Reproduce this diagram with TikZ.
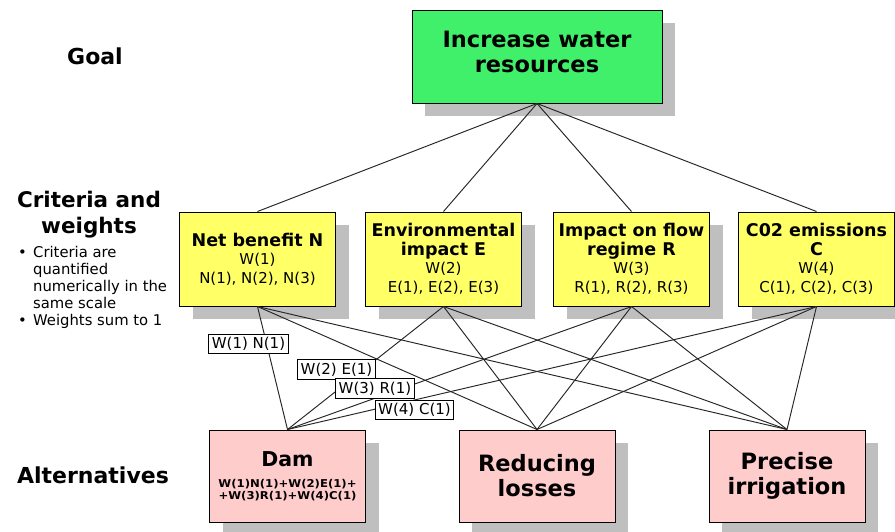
\documentclass[tikz,border=0pt]{standalone}
\usepackage{fontspec}
\setmainfont{DejaVu Sans}
\newfontfamily\widefont[FakeStretch=1.08]{DejaVu Sans}
\usetikzlibrary{shadows}
\definecolor{goalgreen}{RGB}{64,240,106}
\definecolor{crityellow}{RGB}{255,255,102}
\definecolor{altpink}{RGB}{255,204,204}
\newcommand{\bul}{\makebox[15pt][l]{\textbullet}}
\newcommand{\ind}{\hspace*{15pt}}
\begin{document}
\begin{tikzpicture}[x=1pt,y=-1pt,
  box/.style={draw=black, line width=1pt, align=center, inner sep=0pt,
    drop shadow={shadow xshift=13pt, shadow yshift=-13pt, fill=black!25, opacity=1, draw=none}},
  goalbox/.style={box, fill=goalgreen, minimum width=250pt, minimum height=93pt,
    font=\bfseries\fontsize{22.5}{25}\selectfont, text depth=10pt},
  critbox/.style={box, fill=crityellow, minimum width=156pt, minimum height=94pt,
    font=\fontsize{15}{18.5}\selectfont},
  altbox/.style={box, fill=altpink, minimum width=156pt, minimum height=92pt,
    font=\bfseries\fontsize{22.5}{25}\selectfont},
  wlabel/.style={draw=black, line width=0.9pt, fill=white, inner xsep=3pt, inner ysep=3pt,
    font=\fontsize{15}{17}\selectfont},
  link/.style={draw=black!85, line width=0.95pt},
  side/.style={font=\bfseries\fontsize{22}{26}\selectfont, align=center, inner sep=0pt}]
\fill[white] (0,0) rectangle (895,531);
\useasboundingbox (0,0) rectangle (895,531);

% side labels
\node[side, anchor=base] (goallbl) at (95,64) {Goal};
\node[side, anchor=north, font=\bfseries\fontsize{21.5}{26}\selectfont] (critlbl) at (89,191) {Criteria and\\weights};
\node[font=\fontsize{14.8}{17}\selectfont, align=left, anchor=north west, inner sep=0pt] (notes) at (18,246)
  {\bul Criteria are\\ \ind quantified\\ \ind numerically in the\\ \ind same scale\\ \bul Weights sum to 1};
\node[side, anchor=base] (altlbl) at (93,483) {Alternatives};

% goal
\node[goalbox] (goal) at (537,56.5) {Increase water\\resources};

% criteria
\newcommand{\ct}[1]{{\bfseries\fontsize{17.5}{18.5}\selectfont #1}}
\node[critbox] (c1) at (257.5,259) {\ct{Net benefit N}\\W(1)\\N(1), N(2), N(3)};
\node[critbox] (c2) at (443.5,259) {\ct{Environmental}\\\ct{impact E}\\W(2)\\E(1), E(2), E(3)};
\node[critbox] (c3) at (631.5,259) {\ct{Impact on flow}\\\ct{regime R}\\W(3)\\R(1), R(2), R(3)};
\node[critbox] (c4) at (816.5,259) {\ct{C02 emissions}\\\ct{C}\\W(4)\\C(1), C(2), C(3)};

% alternatives
\node[altbox, font=\bfseries\fontsize{10.8}{11.5}\selectfont] (a1) at (287.5,476)
  {{\fontsize{20.5}{22}\selectfont Dam}\\[10pt]
   {\widefont\bfseries W(1)N(1)+W(2)E(1)+}\\
   {\widefont\bfseries +W(3)R(1)+W(4)C(1)}};
\node[altbox] (a2) at (537,476) {Reducing\\losses};
\node[altbox] (a3) at (787,476) {Precise\\irrigation};

% links goal -> criteria
\foreach \c in {c1,c2,c3,c4}
  \draw[link] (goal.south) -- (\c.north);
% links criteria -> alternatives
\foreach \c in {c1,c2,c3,c4}
  \foreach \a in {a1,a2,a3}
    \draw[link] (\c.south) -- (\a.north);

% weight labels
\node[wlabel] (w1) at (248.5,344) {W(1) N(1)};
\node[wlabel] (w2) at (336.5,369.5) {W(2) E(1)};
\node[wlabel] (w3) at (375,388.5) {W(3) R(1)};
\node[wlabel] (w4) at (414.5,410) {W(4) C(1)};
\end{tikzpicture}
\end{document}
